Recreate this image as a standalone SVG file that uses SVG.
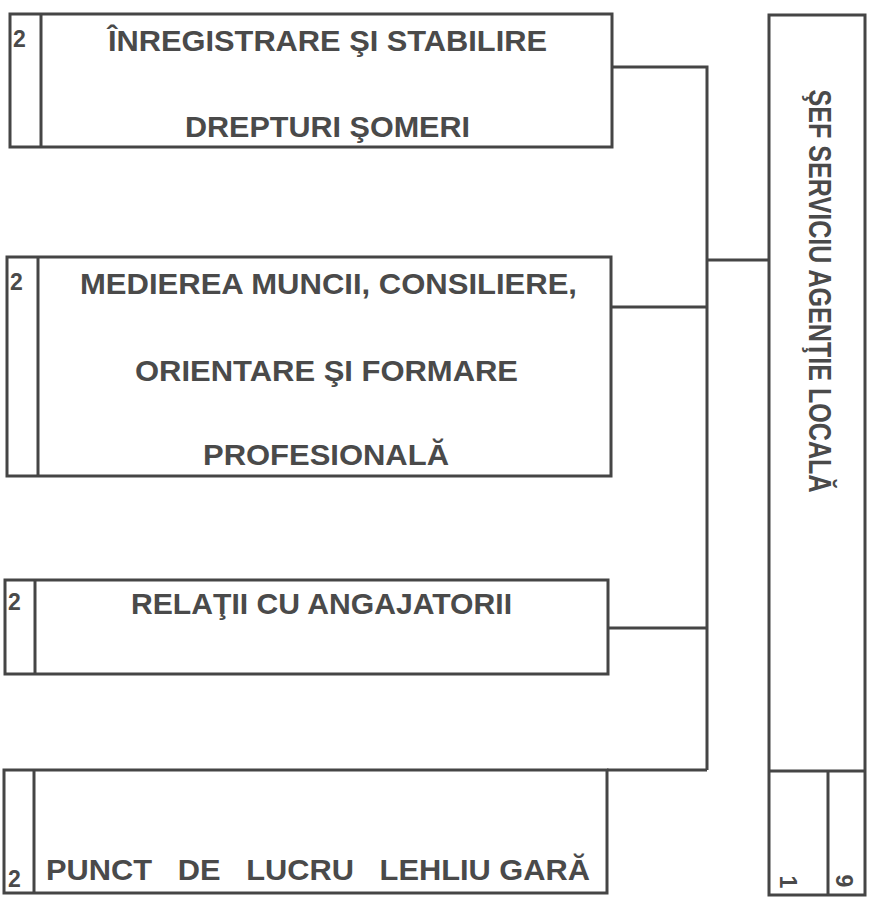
<svg xmlns="http://www.w3.org/2000/svg" width="876" height="899" viewBox="0 0 876 899">
<style>
.box{fill:none;stroke:#454545;stroke-width:3}
.ln{fill:none;stroke:#454545;stroke-width:3}
.t{font-family:"Liberation Sans",Arial,sans-serif;font-weight:bold;font-size:30px;fill:#4a4a4a}
.n{font-family:"Liberation Sans",Arial,sans-serif;font-weight:bold;font-size:23px;fill:#4a4a4a}
</style>
<rect width="876" height="899" fill="#ffffff"/>
<g id="connectors">
<polyline class="ln" points="612,67 707,67 707,770"/>
<line class="ln" x1="707" y1="260" x2="769" y2="260"/>
<line class="ln" x1="611" y1="307" x2="707" y2="307"/>
<line class="ln" x1="608" y1="628" x2="707" y2="628"/>
<line class="ln" x1="607" y1="770" x2="707" y2="770"/>
</g>
<g id="node-inregistrare">
<rect class="box" x="10" y="14" width="602" height="133"/>
<line class="ln" x1="41" y1="14" x2="41" y2="147"/>
<text class="n" x="13" y="47">2</text>
<text class="t" x="108" y="51" textLength="439" lengthAdjust="spacingAndGlyphs">ÎNREGISTRARE ŞI STABILIRE</text>
<text class="t" x="185" y="137" textLength="285" lengthAdjust="spacingAndGlyphs">DREPTURI ŞOMERI</text>
</g>
<g id="node-medierea">
<rect class="box" x="7" y="257" width="604" height="219"/>
<line class="ln" x1="38" y1="257" x2="38" y2="476"/>
<text class="n" x="10" y="290">2</text>
<text class="t" x="80" y="294" textLength="497" lengthAdjust="spacingAndGlyphs">MEDIEREA MUNCII, CONSILIERE,</text>
<text class="t" x="135" y="381" textLength="383" lengthAdjust="spacingAndGlyphs">ORIENTARE ŞI FORMARE</text>
<text class="t" x="203" y="465" textLength="246" lengthAdjust="spacingAndGlyphs">PROFESIONALĂ</text>
</g>
<g id="node-relatii">
<rect class="box" x="5" y="580" width="603" height="94"/>
<line class="ln" x1="35" y1="580" x2="35" y2="674"/>
<text class="n" x="8" y="610">2</text>
<text class="t" x="131" y="614" textLength="381" lengthAdjust="spacingAndGlyphs">RELAŢII CU ANGAJATORII</text>
</g>
<g id="node-punct">
<rect class="box" x="4" y="770" width="603" height="123"/>
<line class="ln" x1="34" y1="770" x2="34" y2="893"/>
<text class="n" x="8" y="887">2</text>
<text class="t" x="46" y="880" textLength="544" lengthAdjust="spacingAndGlyphs" xml:space="preserve">PUNCT   DE   LUCRU   LEHLIU GARĂ</text>
</g>
<g id="node-sef">
<rect class="box" x="769" y="15" width="96" height="880"/>
<line class="ln" x1="769" y1="771" x2="865" y2="771"/>
<line class="ln" x1="828" y1="771" x2="828" y2="895"/>
<text class="t" style="font-size:32px" transform="translate(809,291) rotate(90)" text-anchor="middle" textLength="403" lengthAdjust="spacingAndGlyphs">ŞEF SERVICIU AGENŢIE LOCALĂ</text>
<text class="n" transform="translate(780,882) rotate(90)" text-anchor="middle">1</text>
<text class="n" transform="translate(836,881) rotate(90)" text-anchor="middle">9</text>
</g>
</svg>
